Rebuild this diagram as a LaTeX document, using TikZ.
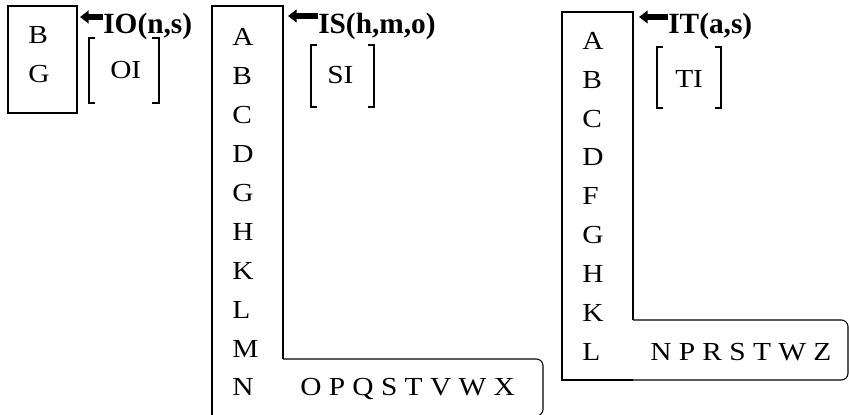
\documentclass[tikz,border=0pt]{standalone}
\usepackage{fontspec}
\setmainfont[FakeStretch=1.13]{Liberation Serif}
\newfontfamily\titlefont{Liberation Serif}
\usetikzlibrary{arrows.meta,positioning}

\begin{document}
\begin{tikzpicture}[
  x=0.75pt,y=-0.75pt,
  every node/.style={font=\fontsize{19.5}{24}\selectfont,inner sep=0pt},
  letter/.style={anchor=base west},
  rowtext/.style={anchor=base west},
  title/.style={anchor=base west,font=\titlefont\fontsize{22}{27}\selectfont\bfseries},
  frame/.style={line width=0.8pt},
  bracket/.style={line width=1.3pt},
  pointer/.style={line width=3.8pt,-{Triangle[length=6.5pt,width=9.5pt]}},
]
  \useasboundingbox (0,0) rectangle (849,414);

  % Object box
  \draw[frame] (8,6) rectangle (77,113);
  \node[letter] (ioB) at (28,43) {B};
  \node[letter] (ioG) at (28,82) {G};
  \node[title] (ioTitle) at (103,33) {IO(n,s)};
  \coordinate (ioTip) at (80,17);
  \draw[pointer] (ioTitle.west |- ioTip) -- (ioTip);
  \draw[bracket] (95,38) -- (89,38) -- (89,103) -- (95,103);
  \draw[bracket] (152,38) -- (159,38) -- (159,103) -- (152,103);
  \node[letter] (ioInv) at (110,78) {OI};

  % Set box
  \draw[frame] (283,359) -- (283,6) -- (212,6) -- (212,416) -- (283,416);
  \draw[frame,rounded corners=5pt] (283,359) -- (543,359) -- (543,416) -- (283,416);
  \node[letter] (isA) at (232,45.5) {A};
  \node[letter] (isB) at (232,84.5) {B};
  \node[letter] (isC) at (232,123.5) {C};
  \node[letter] (isD) at (232,162) {D};
  \node[letter] (isG) at (232,201) {G};
  \node[letter] (isH) at (232,240) {H};
  \node[letter] (isK) at (232,279) {K};
  \node[letter] (isL) at (232,318) {L};
  \node[letter] (isM) at (232,357) {M};
  \node[letter] (isN) at (232,395.5) {N};
  \node[rowtext] (isRow) at (300,395.5) {O P Q S T V W X};
  \node[title] (isTitle) at (318,33) {IS(h,m,o)};
  \coordinate (isTip) at (288,16);
  \draw[pointer] (isTitle.west |- isTip) -- (isTip);
  \draw[bracket] (317,45) -- (311,45) -- (311,107) -- (317,107);
  \draw[bracket] (368,45) -- (374,45) -- (374,107) -- (368,107);
  \node[letter] (isInv) at (327,83) {SI};

  % Type box
  \draw[frame] (633,320) -- (633,12) -- (562,12) -- (562,380) -- (633,380);
  \draw[frame,rounded corners=5pt] (633,320) -- (848,320) -- (848,380) -- (633,380);
  \node[letter] (itA) at (582,49) {A};
  \node[letter] (itB) at (582,88) {B};
  \node[letter] (itC) at (582,127) {C};
  \node[letter] (itD) at (582,165.5) {D};
  \node[letter] (itF) at (582,204.5) {F};
  \node[letter] (itG) at (582,243.5) {G};
  \node[letter] (itH) at (582,282.5) {H};
  \node[letter] (itK) at (582,321) {K};
  \node[letter] (itL) at (582,360) {L};
  \node[rowtext] (itRow) at (650,360) {N P R S T W Z};
  \node[title] (itTitle) at (668,33) {IT(a,s)};
  \coordinate (itTip) at (639,17);
  \draw[pointer] (itTitle.west |- itTip) -- (itTip);
  \draw[bracket] (663,47) -- (657,47) -- (657,108) -- (663,108);
  \draw[bracket] (715,47) -- (721,47) -- (721,108) -- (715,108);
  \node[letter] (itInv) at (675,87) {TI};
\end{tikzpicture}
\end{document}
